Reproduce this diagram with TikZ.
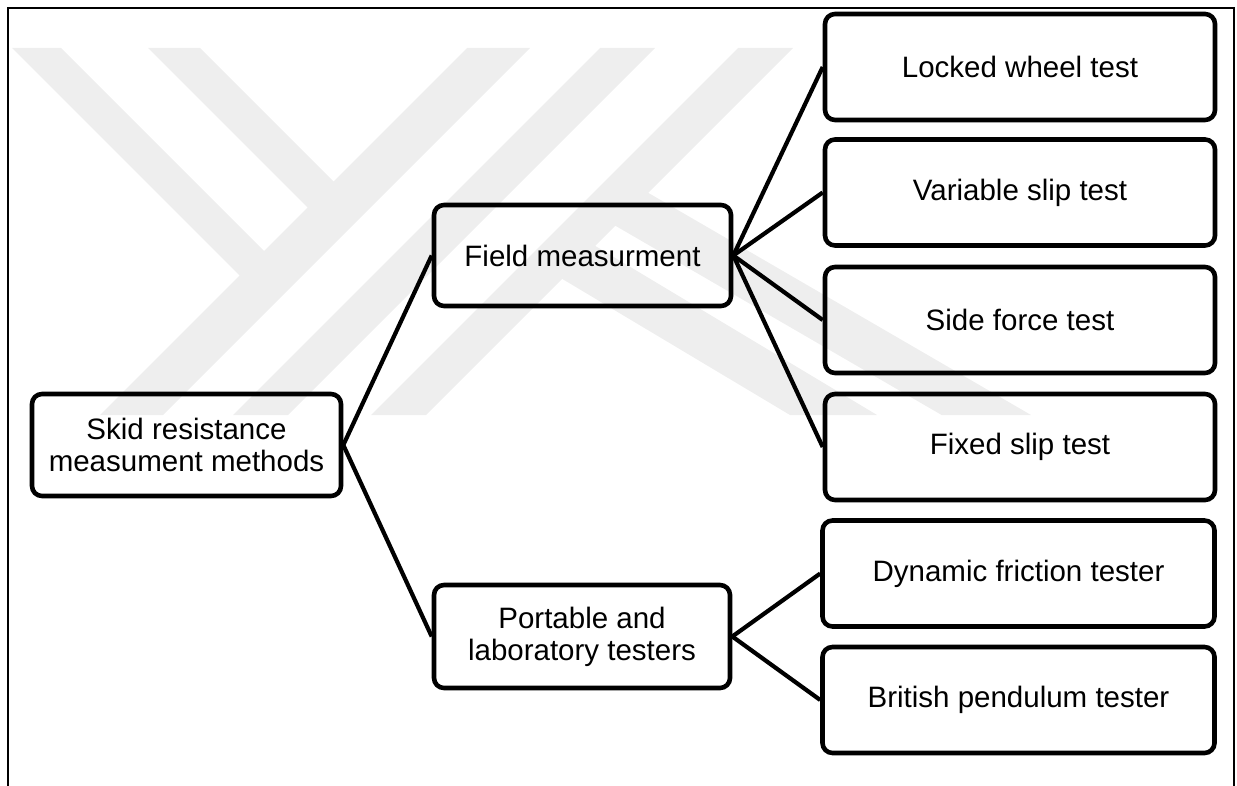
\documentclass[tikz,border=0pt]{standalone}
\usepackage{fontspec}
\setmainfont{Liberation Sans}
\definecolor{wmgray}{RGB}{238,238,238}
\begin{document}
\begin{tikzpicture}[x=1pt,y=-1pt,
  box/.style={draw, line width=4.6pt, rounded corners=10pt, inner sep=0pt, align=center,
              font=\fontsize{29.5}{32}\selectfont},
  rbox/.style={box, minimum width=390pt, minimum height=106pt},
  link/.style={line width=4.2pt},
  wm/.style={fill=wmgray, draw=none}]
\useasboundingbox (0,0) rectangle (1237,786);
% watermark
\fill[wm] (12,48) -- (61,48) -- (279,266) -- (254.5,290.5) -- cycle;
\fill[wm] (148,48) -- (200,48) -- (348.5,196.5) -- (322.5,222.5) -- cycle;
\fill[wm] (467,48) -- (530,48) -- (163,415) -- (100,415) -- cycle;
\fill[wm] (600,48) -- (655,48) -- (288,415) -- (233,415) -- cycle;
\fill[wm] (738,48) -- (793,48) -- (426,415) -- (371,415) -- cycle;
\fill[wm] (634.9,185.1) -- (1031,415) -- (941.6,415) -- (602,218) -- cycle;
\fill[wm] (582,238) -- (877,415) -- (790,415) -- (549,271) -- cycle;
% frame
\draw[line width=2.2pt] (8,786) -- (8,8) -- (1234,8) -- (1234,786);
% nodes
\node[box, minimum width=309pt, minimum height=102pt] (skid) at (186.5,445) {Skid resistance\\measument methods};
\node[box, minimum width=297pt, minimum height=101pt] (field) at (582.5,255.5) {Field measurment};
\node[box, minimum width=296pt, minimum height=103pt] (port) at (582,636.5) {Portable and\\laboratory testers};
\node[rbox] (lock) at (1020,67) {Locked wheel test};
\node[rbox] (var) at (1020,192.5) {Variable slip test};
\node[rbox] (side) at (1020,320) {Side force test};
\node[rbox] (fixed) at (1020,447) {Fixed slip test};
\node[rbox, minimum width=392pt] (dyn) at (1018.5,573.5) {Dynamic friction tester};
\node[rbox, minimum width=392pt] (brit) at (1018.5,700) {British pendulum tester};
% connectors
\draw[link] (skid.east) -- (field.west);
\draw[link] (skid.east) -- (port.west);
\draw[link] (field.east) -- (lock.west);
\draw[link] (field.east) -- (var.west);
\draw[link] (field.east) -- (side.west);
\draw[link] (field.east) -- (fixed.west);
\draw[link] (port.east) -- (dyn.west);
\draw[link] (port.east) -- (brit.west);
\end{tikzpicture}
\end{document}
